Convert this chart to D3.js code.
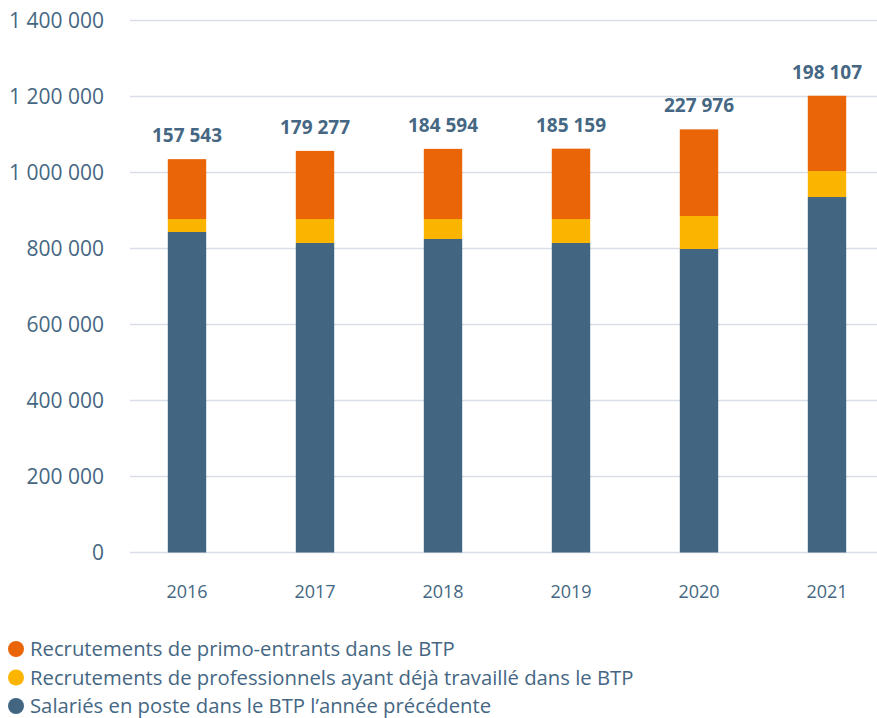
<!DOCTYPE html>
<html>
<head>
<meta charset="utf-8">
<script src="https://cdn.jsdelivr.net/npm/d3@7"></script>
<style>
    body { margin: 0; background: #fff; }
    svg { display: block; font-family: "Open Sans", "Noto Sans", sans-serif; }
</style>
</head>
<body>
<svg id="mainSvgArea" width="877" height="718"></svg>
<script>
var years = ["2016", "2017", "2018", "2019", "2020", "2021"];
var salaries = [843400, 814500, 825000, 814500, 798700, 935500];
var professionnels = [34200, 63100, 52600, 63100, 86900, 68400];
var primoEntrants = [157543, 179277, 184594, 185159, 227976, 198107];
var yTicks = [0, 200000, 400000, 600000, 800000, 1000000, 1200000, 1400000];

var seriesNames = [
    "Salariés en poste dans le BTP l’année précédente",
    "Recrutements de professionnels ayant déjà travaillé dans le BTP",
    "Recrutements de primo-entrants dans le BTP"
];
var colors = ["#426681", "#fbb400", "#ea6508"];
var textColor = "#456783";

var svg = d3.select("#mainSvgArea");

var x = d3.scaleBand()
    .domain(years)
    .range([123, 891])
    .paddingInner(0.7)
    .paddingOuter(0.35);

var y = d3.scaleLinear()
    .domain([0, 1400000])
    .range([552.5, 20.5]);

function fmt(v) {
    return d3.format(",")(v).replace(/,/g, " ");
}

// grid
svg.append("g").selectAll("line").data(yTicks).enter().append("line")
    .attr("x1", 130)
    .attr("x2", 877)
    .attr("y1", function(t) { return y(t); })
    .attr("y2", function(t) { return y(t); })
    .attr("stroke", "#d9dde8")
    .attr("stroke-width", 1.5);

// y labels
svg.append("g").selectAll("text").data(yTicks).enter().append("text")
    .attr("x", 104)
    .attr("y", function(t) { return y(t); })
    .attr("dy", "0.35em")
    .attr("text-anchor", "end")
    .attr("fill", textColor)
    .style("font-size", "21px")
    .text(fmt);

// stacked bars
var rows = years.map(function(yr, i) {
    return { year: yr, s0: salaries[i], s1: professionnels[i], s2: primoEntrants[i] };
});
var stack = d3.stack().keys(["s0", "s1", "s2"]);
var layers = stack(rows);

svg.append("g").selectAll("g").data(layers).enter().append("g")
    .attr("fill", function(d, i) { return colors[i]; })
    .selectAll("rect").data(function(d) { return d; }).enter().append("rect")
    .attr("x", function(d) { return x(d.data.year); })
    .attr("width", x.bandwidth())
    .attr("y", function(d) { return y(d[1]); })
    .attr("height", function(d) { return y(d[0]) - y(d[1]); });

// labels above the bars (primo-entrants)
var topLayer = layers[2];
svg.append("g").selectAll("text").data(topLayer).enter().append("text")
    .attr("x", function(d) { return x(d.data.year) + x.bandwidth() / 2; })
    .attr("y", function(d) { return y(d[1]) - 17; })
    .attr("text-anchor", "middle")
    .attr("fill", textColor)
    .style("font-size", "19px")
    .style("font-weight", "bold")
    .text(function(d) { return fmt(d.data.s2); });

// x labels
svg.append("g").selectAll("text").data(years).enter().append("text")
    .attr("x", function(yr) { return x(yr) + x.bandwidth() / 2; })
    .attr("y", 592)
    .attr("dy", "0.35em")
    .attr("text-anchor", "middle")
    .attr("fill", textColor)
    .style("font-size", "18px")
    .text(function(yr) { return yr; });

// legend
var legendItems = [2, 1, 0];
var legend = svg.append("g").selectAll("g").data(legendItems).enter().append("g")
    .attr("transform", function(k, i) { return "translate(0," + (649 + i * 28.5) + ")"; });
legend.append("circle")
    .attr("cx", 16)
    .attr("cy", 0)
    .attr("r", 8)
    .attr("fill", function(k) { return colors[k]; });
legend.append("text")
    .attr("x", 30)
    .attr("y", 0)
    .attr("dy", "0.35em")
    .attr("fill", textColor)
    .style("font-size", "20.3px")
    .text(function(k) { return seriesNames[k]; });
</script>
</body>
</html>
